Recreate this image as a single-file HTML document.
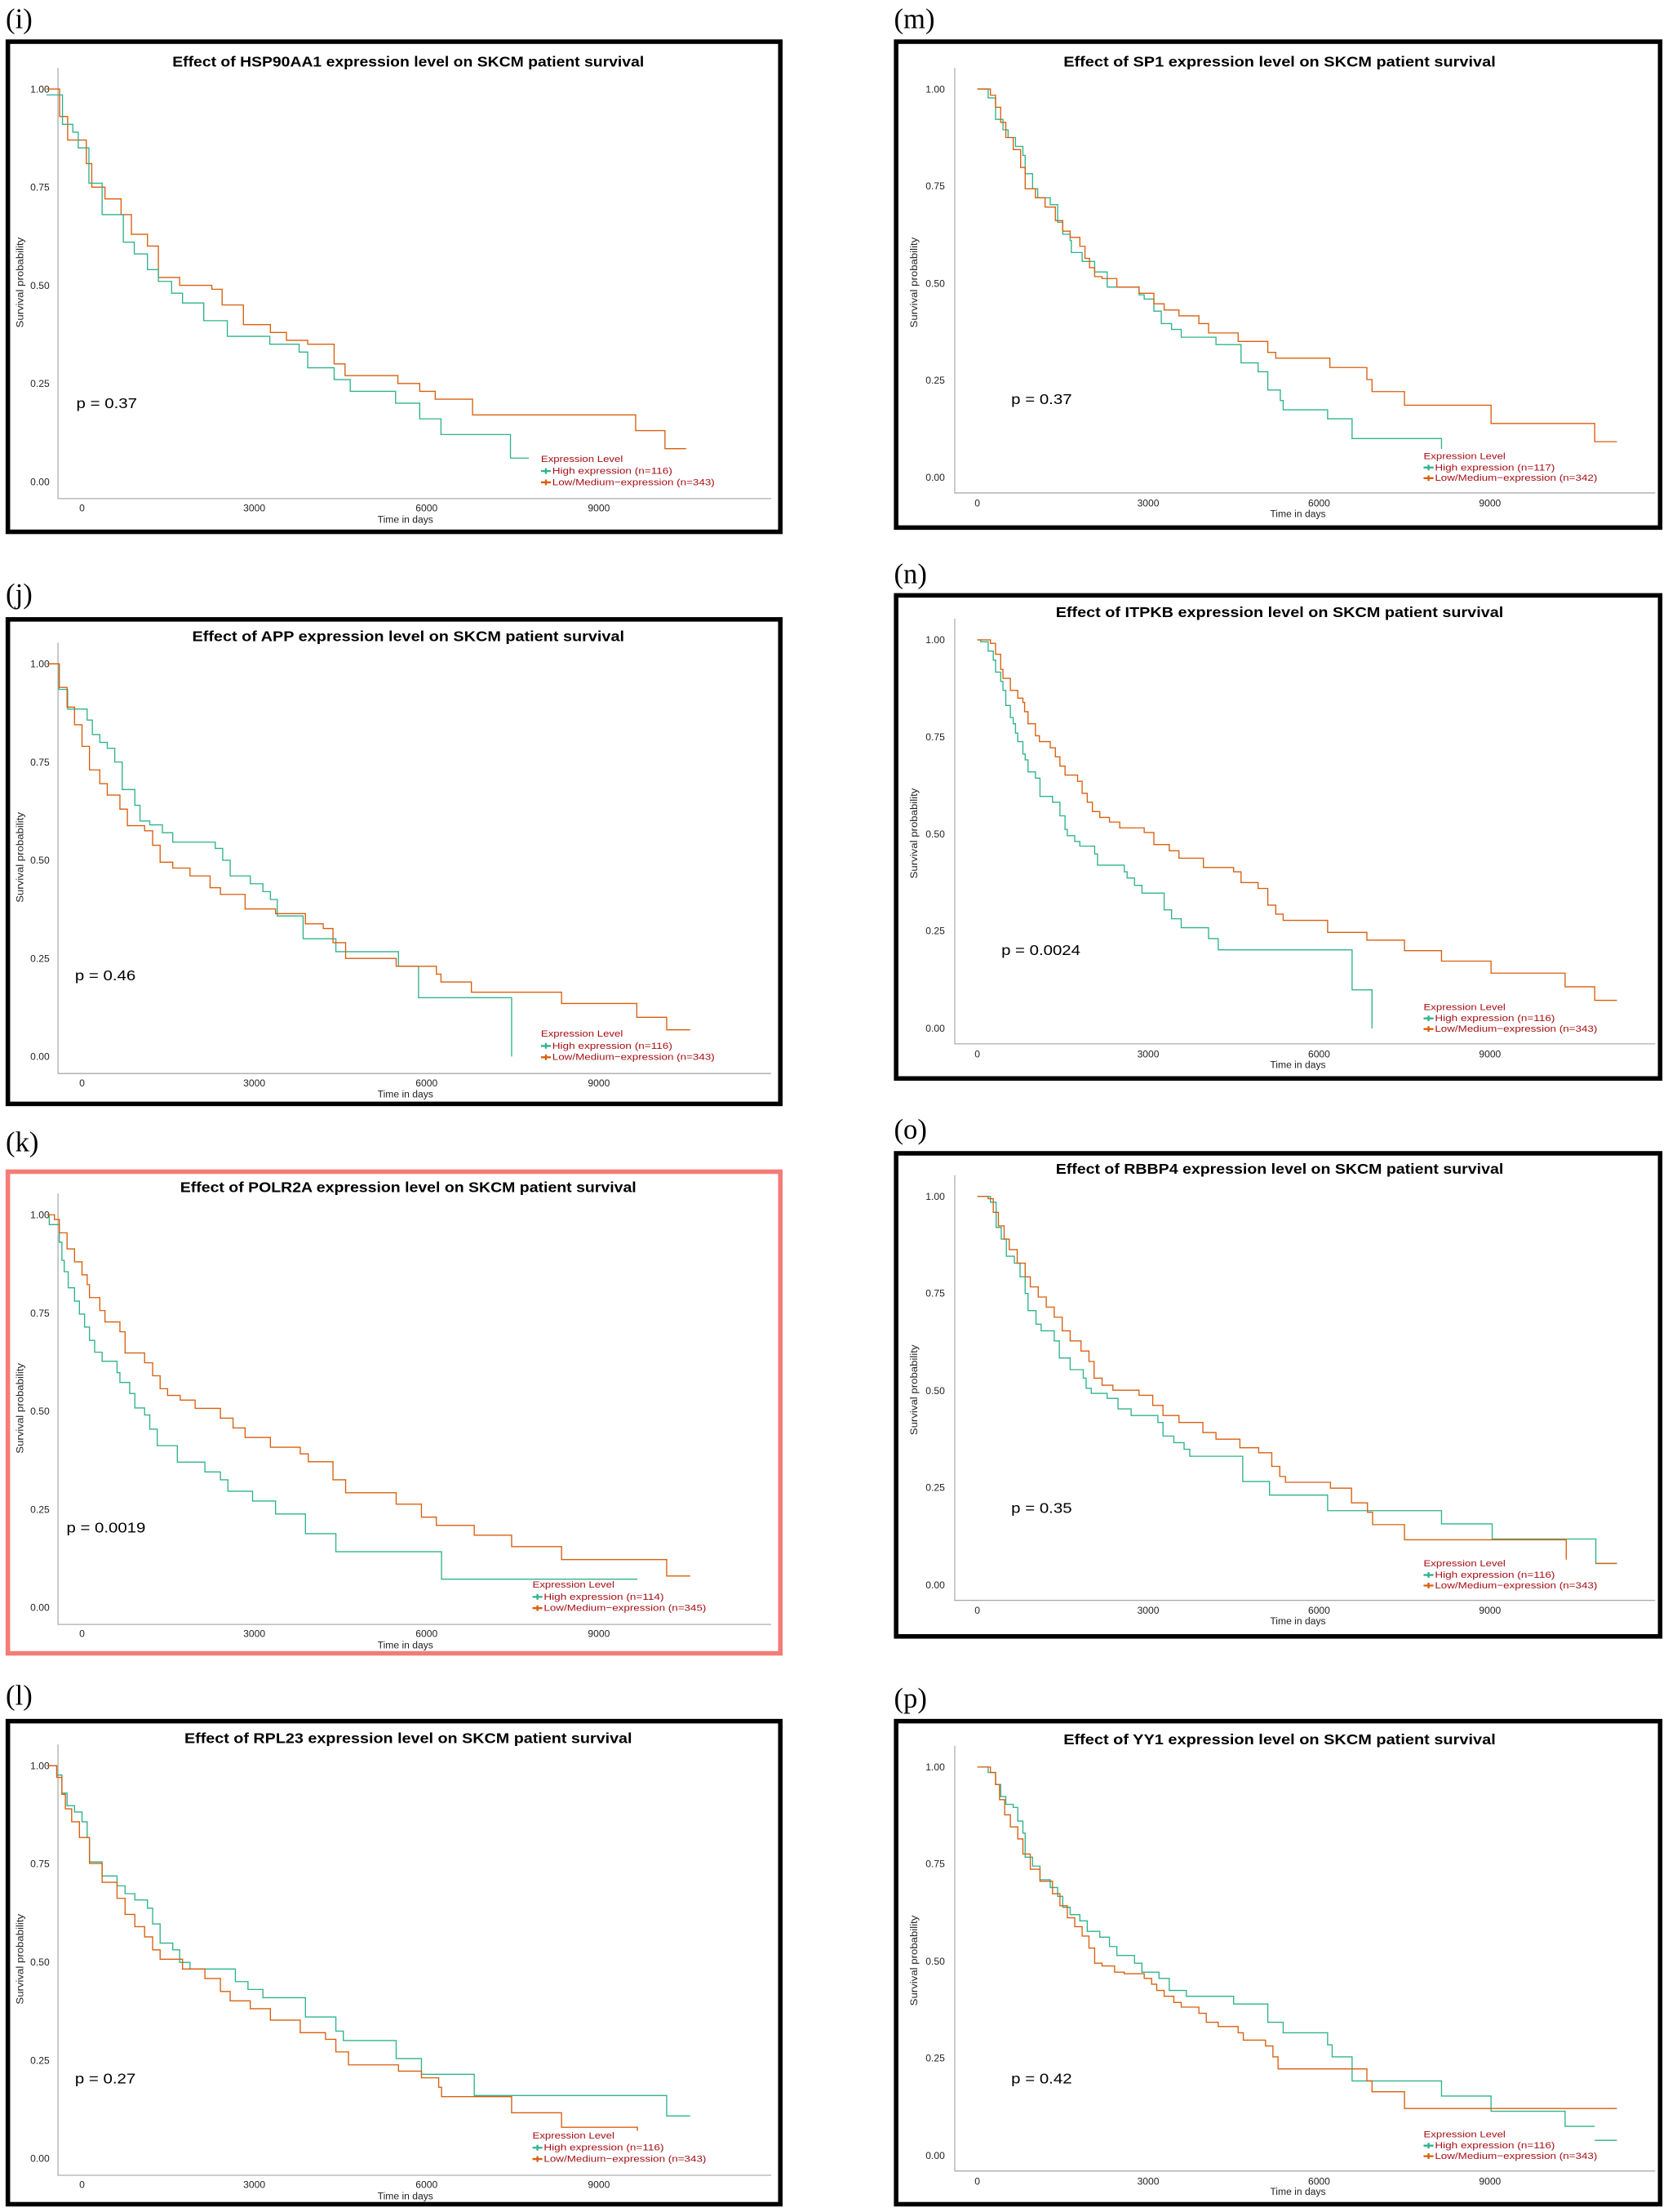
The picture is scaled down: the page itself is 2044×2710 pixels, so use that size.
<!DOCTYPE html>
<html><head><meta charset="utf-8"><style>
html,body{margin:0;padding:0;background:#fff}
svg{display:block}
text{font-family:"Liberation Sans",sans-serif}
.lab{font-family:"Liberation Serif",serif;font-size:20px}
.ttl{font-weight:bold;font-size:10px;text-anchor:middle}
.tk{font-size:7px;fill:#222}
.ax{stroke:#999;stroke-width:0.6;fill:none}
.t{stroke:#2fb38c;stroke-width:1.35;fill:none}
.o{stroke:#d95f0e;stroke-width:1.35;fill:none}
.lg{font-size:6.6px;fill:#a50f15}
.pv{font-size:10px}
</style></head><body>
<svg width="2044" height="2710" viewBox="0 0 1181 1566" xmlns="http://www.w3.org/2000/svg">
<rect width="1181" height="1566" fill="#fff"/>
<text class="lab" x="4" y="20">(i)</text>
<text class="lab" x="4" y="427">(j)</text>
<text class="lab" x="4" y="815">(k)</text>
<text class="lab" x="4" y="1207">(l)</text>
<text class="lab" x="633" y="20">(m)</text>
<text class="lab" x="633" y="413">(n)</text>
<text class="lab" x="633" y="806">(o)</text>
<text class="lab" x="633" y="1209">(p)</text>
<rect x="5.5" y="29.5" width="547" height="347" fill="none" stroke="#000" stroke-width="3.2"/>
<rect x="5.5" y="438.5" width="547" height="343" fill="none" stroke="#000" stroke-width="3.2"/>
<rect x="5.5" y="829.5" width="547" height="341" fill="none" stroke="#f47c77" stroke-width="3.2"/>
<rect x="5.5" y="1218.5" width="547" height="342" fill="none" stroke="#000" stroke-width="3.2"/>
<rect x="634.5" y="29.5" width="541" height="344" fill="none" stroke="#000" stroke-width="3.2"/>
<rect x="634.5" y="421.5" width="541" height="342" fill="none" stroke="#000" stroke-width="3.2"/>
<rect x="634.5" y="816.5" width="541" height="342" fill="none" stroke="#000" stroke-width="3.2"/>
<rect x="634.5" y="1218.5" width="541" height="342" fill="none" stroke="#000" stroke-width="3.2"/>

<g>
<text class="ttl" x="289" y="47" textLength="334" lengthAdjust="spacingAndGlyphs">Effect of HSP90AA1 expression level on SKCM patient survival</text>
<path class="ax" d="M41 48 V353 H546"/>
<text class="tk" x="35" y="65.5" text-anchor="end">1.00</text>
<text class="tk" x="35" y="135" text-anchor="end">0.75</text>
<text class="tk" x="35" y="204.5" text-anchor="end">0.50</text>
<text class="tk" x="35" y="274" text-anchor="end">0.25</text>
<text class="tk" x="35" y="343.5" text-anchor="end">0.00</text>
<text class="tk" x="58" y="362" text-anchor="middle">0</text>
<text class="tk" x="180" y="362" text-anchor="middle">3000</text>
<text class="tk" x="302" y="362" text-anchor="middle">6000</text>
<text class="tk" x="424" y="362" text-anchor="middle">9000</text>
<text class="tk" x="287" y="370" text-anchor="middle" font-size="7.5">Time in days</text>
<text class="tk" transform="translate(16.5,200) rotate(-90)" text-anchor="middle" textLength="64" lengthAdjust="spacingAndGlyphs">Survival probability</text>
<text class="pv" x="54" y="289" textLength="43" lengthAdjust="spacingAndGlyphs">p = 0.37</text>
<text class="lg" x="383" y="327" textLength="58" lengthAdjust="spacingAndGlyphs">Expression Level</text>
<text class="lg" x="391" y="335.5" textLength="85" lengthAdjust="spacingAndGlyphs">High expression (n=116)</text>
<text class="lg" x="391" y="343.5" textLength="115" lengthAdjust="spacingAndGlyphs">Low/Medium−expression (n=343)</text>
<path class="t" d="M383 333.5 H390 M386.5 331.5 V335.5"/><path class="o" d="M383 341.5 H390 M386.5 339.5 V343.5"/>
<g transform="translate(58,341) scale(0.04067,-2.78)">
<path class="o" vector-effect="non-scaling-stroke" d="M-620 100 H-390 V93 H-250 V87 H75 V81 H170 V75 H400 V72 H680 V68 H860 V63 H1140 V60 H1330 V52 H1700 V50 H2260 V49 H2440 V45 H2810 V40 H3280 V38 H3560 V36 H3930 V35 H4390 V30 H4580 V27 H5500 V25 H5880 V23 H6150 V21 H6800 V17 H9640 V13 H10150 V8.4 H10520"/>
<path class="t" vector-effect="non-scaling-stroke" d="M-620 98.5 H-340 V91 H-160 V89 H-65 V85 H120 V76 H350 V68 H720 V61 H910 V58 H1140 V54 H1330 V51 H1560 V48 H1750 V45.5 H2120 V41 H2530 V37 H3270 V35 H3780 V33 H3930 V29 H4390 V26 H4670 V23 H5460 V20 H5880 V16 H6250 V12 H7460 V6 H7780"/>
</g>
</g>

<g transform="translate(0,407)">
<text class="ttl" x="289" y="47" textLength="306" lengthAdjust="spacingAndGlyphs">Effect of APP expression level on SKCM patient survival</text>
<path class="ax" d="M41 48 V353 H546"/>
<text class="tk" x="35" y="65.5" text-anchor="end">1.00</text>
<text class="tk" x="35" y="135" text-anchor="end">0.75</text>
<text class="tk" x="35" y="204.5" text-anchor="end">0.50</text>
<text class="tk" x="35" y="274" text-anchor="end">0.25</text>
<text class="tk" x="35" y="343.5" text-anchor="end">0.00</text>
<text class="tk" x="58" y="362" text-anchor="middle">0</text>
<text class="tk" x="180" y="362" text-anchor="middle">3000</text>
<text class="tk" x="302" y="362" text-anchor="middle">6000</text>
<text class="tk" x="424" y="362" text-anchor="middle">9000</text>
<text class="tk" x="287" y="370" text-anchor="middle" font-size="7.5">Time in days</text>
<text class="tk" transform="translate(16.5,200) rotate(-90)" text-anchor="middle" textLength="64" lengthAdjust="spacingAndGlyphs">Survival probability</text>
<text class="pv" x="53" y="287" textLength="43" lengthAdjust="spacingAndGlyphs">p = 0.46</text>
<text class="lg" x="383" y="327" textLength="58" lengthAdjust="spacingAndGlyphs">Expression Level</text>
<text class="lg" x="391" y="335.5" textLength="85" lengthAdjust="spacingAndGlyphs">High expression (n=116)</text>
<text class="lg" x="391" y="343.5" textLength="115" lengthAdjust="spacingAndGlyphs">Low/Medium−expression (n=343)</text>
<path class="t" d="M383 333.5 H390 M386.5 331.5 V335.5"/><path class="o" d="M383 341.5 H390 M386.5 339.5 V343.5"/>
<g transform="translate(58,341) scale(0.04067,-2.78)">
<path class="t" vector-effect="non-scaling-stroke" d="M-610 100 H-400 V93.5 H-250 V88.5 H90 V85.7 H180 V82 H310 V80 H440 V78.5 H570 V75 H700 V68 H920 V64 H1010 V60 H1180 V59 H1400 V57 H1580 V54.6 H2320 V53 H2450 V50 H2580 V46 H2930 V44 H3150 V42 H3280 V40 H3400 V35.8 H3850 V30 H4420 V26.7 H5510 V23 H5860 V15 H7480 V0"/>
<path class="o" vector-effect="non-scaling-stroke" d="M-610 100 H-395 V94 H-260 V89 H-130 V84.5 H0 V79 H130 V73 H310 V69.5 H440 V66.6 H660 V63 H790 V58.8 H1090 V57.5 H1230 V53.8 H1360 V49.5 H1580 V48 H1880 V46 H2230 V43 H2410 V41.3 H2840 V37.6 H3370 V36.4 H3890 V33.8 H4200 V32.6 H4370 V29 H4590 V25 H5470 V23 H6170 V21 H6250 V19 H6780 V16.4 H8350 V13.5 H9660 V10 H10180 V6.8 H10590"/>
</g>
</g>

<g transform="translate(0,797)">
<text class="ttl" x="289" y="47" textLength="323" lengthAdjust="spacingAndGlyphs">Effect of POLR2A expression level on SKCM patient survival</text>
<path class="ax" d="M41 48 V353 H546"/>
<text class="tk" x="35" y="65.5" text-anchor="end">1.00</text>
<text class="tk" x="35" y="135" text-anchor="end">0.75</text>
<text class="tk" x="35" y="204.5" text-anchor="end">0.50</text>
<text class="tk" x="35" y="274" text-anchor="end">0.25</text>
<text class="tk" x="35" y="343.5" text-anchor="end">0.00</text>
<text class="tk" x="58" y="362" text-anchor="middle">0</text>
<text class="tk" x="180" y="362" text-anchor="middle">3000</text>
<text class="tk" x="302" y="362" text-anchor="middle">6000</text>
<text class="tk" x="424" y="362" text-anchor="middle">9000</text>
<text class="tk" x="287" y="370" text-anchor="middle" font-size="7.5">Time in days</text>
<text class="tk" transform="translate(16.5,200) rotate(-90)" text-anchor="middle" textLength="64" lengthAdjust="spacingAndGlyphs">Survival probability</text>
<text class="pv" x="47" y="288" textLength="56" lengthAdjust="spacingAndGlyphs">p = 0.0019</text>
<text class="lg" x="377" y="327" textLength="58" lengthAdjust="spacingAndGlyphs">Expression Level</text>
<text class="lg" x="385" y="335.5" textLength="85" lengthAdjust="spacingAndGlyphs">High expression (n=114)</text>
<text class="lg" x="385" y="343.5" textLength="115" lengthAdjust="spacingAndGlyphs">Low/Medium−expression (n=345)</text>
<path class="t" d="M377 333.5 H384 M380.5 331.5 V335.5"/><path class="o" d="M377 341.5 H384 M380.5 339.5 V343.5"/>
<g transform="translate(58,341) scale(0.04067,-2.78)">
<path class="t" vector-effect="non-scaling-stroke" d="M-610 100 H-570 V97.5 H-395 V93 H-350 V88.4 H-310 V85.5 H-240 V81.4 H-130 V78 H-45 V74.7 H45 V71.4 H130 V68 H220 V65 H350 V62.7 H610 V59.8 H660 V57.3 H830 V54.5 H920 V50.8 H1090 V49 H1180 V45.4 H1310 V41.2 H1660 V37 H2140 V34.5 H2410 V32.5 H2540 V29.6 H2970 V27.1 H3370 V23.8 H3890 V18.8 H4420 V14.2 H6260 V7.2 H9670"/>
<path class="o" vector-effect="non-scaling-stroke" d="M-610 100 H-480 V98.8 H-395 V95.4 H-260 V91.3 H-130 V88 H0 V84.7 H90 V82.2 H130 V78.9 H310 V75.6 H400 V72.7 H660 V70.2 H750 V64.8 H1090 V62.3 H1230 V59 H1360 V55.7 H1490 V54 H1710 V52.8 H1970 V50.7 H2410 V48.2 H2630 V45.7 H2840 V43.3 H3280 V40.8 H3800 V39.1 H3940 V37.1 H4370 V32.5 H4590 V29.2 H5470 V26.3 H5910 V23 H6170 V20.9 H6830 V18.4 H7480 V15.5 H8350 V12.2 H10180 V8 H10590"/>
</g>
</g>

<g transform="translate(0,1187)">
<text class="ttl" x="289" y="47" textLength="317" lengthAdjust="spacingAndGlyphs">Effect of RPL23 expression level on SKCM patient survival</text>
<path class="ax" d="M41 48 V353 H546"/>
<text class="tk" x="35" y="65.5" text-anchor="end">1.00</text>
<text class="tk" x="35" y="135" text-anchor="end">0.75</text>
<text class="tk" x="35" y="204.5" text-anchor="end">0.50</text>
<text class="tk" x="35" y="274" text-anchor="end">0.25</text>
<text class="tk" x="35" y="343.5" text-anchor="end">0.00</text>
<text class="tk" x="58" y="362" text-anchor="middle">0</text>
<text class="tk" x="180" y="362" text-anchor="middle">3000</text>
<text class="tk" x="302" y="362" text-anchor="middle">6000</text>
<text class="tk" x="424" y="362" text-anchor="middle">9000</text>
<text class="tk" x="287" y="370" text-anchor="middle" font-size="7.5">Time in days</text>
<text class="tk" transform="translate(16.5,200) rotate(-90)" text-anchor="middle" textLength="64" lengthAdjust="spacingAndGlyphs">Survival probability</text>
<text class="pv" x="53" y="288" textLength="43" lengthAdjust="spacingAndGlyphs">p = 0.27</text>
<text class="lg" x="377" y="327" textLength="58" lengthAdjust="spacingAndGlyphs">Expression Level</text>
<text class="lg" x="385" y="335.5" textLength="85" lengthAdjust="spacingAndGlyphs">High expression (n=116)</text>
<text class="lg" x="385" y="343.5" textLength="115" lengthAdjust="spacingAndGlyphs">Low/Medium−expression (n=343)</text>
<path class="t" d="M377 333.5 H384 M380.5 331.5 V335.5"/><path class="o" d="M377 341.5 H384 M380.5 339.5 V343.5"/>
<g transform="translate(58,341) scale(0.04067,-2.78)">
<path class="t" vector-effect="non-scaling-stroke" d="M-610 100 H-440 V97.6 H-350 V93 H-260 V89.8 H-130 V88.2 H0 V85.7 H90 V81.7 H130 V75.5 H350 V71.9 H610 V69.4 H750 V67.4 H920 V65.8 H1140 V63.7 H1230 V59.7 H1360 V54.8 H1580 V53.1 H1700 V49.9 H1880 V48.2 H2670 V45 H2890 V43 H3150 V40.9 H3890 V36 H4420 V32.4 H4550 V30 H5470 V25.4 H5910 V21.4 H6830 V16 H10180 V10.8 H10590"/>
<path class="o" vector-effect="non-scaling-stroke" d="M-610 100 H-440 V97 H-350 V92.7 H-290 V89 H-180 V85.7 H-45 V81.7 H130 V75.1 H350 V70.3 H610 V66.2 H750 V62.1 H920 V59 H1090 V56.4 H1230 V53.1 H1360 V50.7 H1750 V48.2 H2140 V45.8 H2410 V42.5 H2580 V40.1 H2930 V38.1 H3280 V35.2 H3800 V32 H4240 V30.3 H4420 V27.1 H4640 V23.8 H5510 V22.2 H5910 V20.5 H6210 V18.1 H6260 V15.7 H7480 V11.6 H8350 V7.9 H9670 V7"/>
</g>
</g>

<g>
<text class="ttl" x="906" y="47" textLength="306" lengthAdjust="spacingAndGlyphs">Effect of SP1 expression level on SKCM patient survival</text>
<path class="ax" d="M676 48 V349 H1172"/>
<text class="tk" x="669" y="65.5" text-anchor="end">1.00</text>
<text class="tk" x="669" y="134" text-anchor="end">0.75</text>
<text class="tk" x="669" y="203" text-anchor="end">0.50</text>
<text class="tk" x="669" y="271.5" text-anchor="end">0.25</text>
<text class="tk" x="669" y="340.5" text-anchor="end">0.00</text>
<text class="tk" x="692" y="358.5" text-anchor="middle">0</text>
<text class="tk" x="813" y="358.5" text-anchor="middle">3000</text>
<text class="tk" x="934" y="358.5" text-anchor="middle">6000</text>
<text class="tk" x="1055" y="358.5" text-anchor="middle">9000</text>
<text class="tk" x="919" y="366" text-anchor="middle" font-size="7.5">Time in days</text>
<text class="tk" transform="translate(649.5,200) rotate(-90)" text-anchor="middle" textLength="64" lengthAdjust="spacingAndGlyphs">Survival probability</text>
<text class="pv" x="716" y="286" textLength="43" lengthAdjust="spacingAndGlyphs">p = 0.37</text>
<text class="lg" x="1008" y="325" textLength="58" lengthAdjust="spacingAndGlyphs">Expression Level</text>
<text class="lg" x="1016" y="333" textLength="85" lengthAdjust="spacingAndGlyphs">High expression (n=117)</text>
<text class="lg" x="1016" y="340.5" textLength="115" lengthAdjust="spacingAndGlyphs">Low/Medium−expression (n=342)</text>
<path class="t" d="M1008 331 H1015 M1011.5 329 V333"/><path class="o" d="M1008 338.5 H1015 M1011.5 336.5 V340.5"/>
<g transform="translate(692,338) scale(0.04033,-2.75)">
<path class="t" vector-effect="non-scaling-stroke" d="M0 100 H190 V97.7 H320 V92.2 H450 V89.5 H540 V87.5 H670 V85.2 H800 V82.9 H840 V78.2 H970 V74.3 H1060 V72 H1280 V70.2 H1410 V65.7 H1500 V62.6 H1630 V61 H1650 V57.9 H1840 V55.6 H2060 V52.9 H2280 V49 H2840 V47 H2930 V45.9 H3100 V42.8 H3230 V39.6 H3410 V38.1 H3580 V36.1 H4190 V34.2 H4630 V29.5 H4930 V27.2 H5100 V22.5 H5320 V19.8 H5370 V17.4 H6150 V15.1 H6580 V10 H8150 V7.3"/>
<path class="o" vector-effect="non-scaling-stroke" d="M0 100 H230 V98.4 H320 V95.3 H410 V91.4 H500 V87.5 H630 V84.4 H760 V79.8 H840 V74.3 H1020 V72 H1190 V69.6 H1370 V66.1 H1500 V63.4 H1630 V61.8 H1800 V59.5 H1890 V56.4 H1970 V54 H2060 V51.7 H2190 V51.2 H2450 V49 H2840 V47.4 H3100 V44.7 H3280 V43.1 H3540 V41.6 H3890 V39.6 H4060 V37.2 H4580 V35 H5100 V32.2 H5240 V30.7 H6190 V28.3 H6840 V25.2 H6930 V22.1 H7500 V18.6 H9020 V13.9 H10840 V9.2 H11230"/>
</g>
</g>

<g transform="translate(0,390)">
<text class="ttl" x="906" y="47" textLength="317" lengthAdjust="spacingAndGlyphs">Effect of ITPKB expression level on SKCM patient survival</text>
<path class="ax" d="M676 48 V349 H1172"/>
<text class="tk" x="669" y="65.5" text-anchor="end">1.00</text>
<text class="tk" x="669" y="134" text-anchor="end">0.75</text>
<text class="tk" x="669" y="203" text-anchor="end">0.50</text>
<text class="tk" x="669" y="271.5" text-anchor="end">0.25</text>
<text class="tk" x="669" y="340.5" text-anchor="end">0.00</text>
<text class="tk" x="692" y="358.5" text-anchor="middle">0</text>
<text class="tk" x="813" y="358.5" text-anchor="middle">3000</text>
<text class="tk" x="934" y="358.5" text-anchor="middle">6000</text>
<text class="tk" x="1055" y="358.5" text-anchor="middle">9000</text>
<text class="tk" x="919" y="366" text-anchor="middle" font-size="7.5">Time in days</text>
<text class="tk" transform="translate(649.5,200) rotate(-90)" text-anchor="middle" textLength="64" lengthAdjust="spacingAndGlyphs">Survival probability</text>
<text class="pv" x="709" y="286" textLength="56" lengthAdjust="spacingAndGlyphs">p = 0.0024</text>
<text class="lg" x="1008" y="325" textLength="58" lengthAdjust="spacingAndGlyphs">Expression Level</text>
<text class="lg" x="1016" y="333" textLength="85" lengthAdjust="spacingAndGlyphs">High expression (n=116)</text>
<text class="lg" x="1016" y="340.5" textLength="115" lengthAdjust="spacingAndGlyphs">Low/Medium−expression (n=343)</text>
<path class="t" d="M1008 331 H1015 M1011.5 329 V333"/><path class="o" d="M1008 338.5 H1015 M1011.5 336.5 V340.5"/>
<g transform="translate(692,338) scale(0.04033,-2.75)">
<path class="t" vector-effect="non-scaling-stroke" d="M0 100 H60 V99.5 H190 V97.1 H280 V94.8 H320 V91.7 H410 V89.3 H450 V87 H500 V83.1 H580 V80 H630 V78.4 H670 V76 H710 V73.8 H800 V70.6 H840 V69.1 H890 V66 H1020 V64.4 H1100 V59.7 H1320 V58.2 H1450 V54.7 H1540 V51.2 H1580 V49.6 H1710 V48.1 H1800 V46.9 H2060 V44.9 H2110 V42 H2580 V40.3 H2630 V38.7 H2760 V36.8 H2890 V34.8 H3280 V30.5 H3410 V28.2 H3580 V25.9 H4060 V23.1 H4230 V20.2 H6580 V9.9 H6930 V0"/>
<path class="o" vector-effect="non-scaling-stroke" d="M0 100 H230 V99.1 H320 V96.3 H410 V92.4 H450 V90.1 H580 V87 H710 V85 H800 V83.9 H830 V81.5 H890 V78.4 H1020 V75.3 H1090 V73.8 H1280 V72.2 H1370 V69.9 H1450 V67.5 H1540 V65.2 H1760 V63.6 H1840 V60.5 H1930 V58.2 H2020 V55.8 H2150 V54.3 H2320 V53.1 H2500 V51.6 H2930 V50.4 H3100 V47.3 H3370 V45.7 H3540 V43.8 H3970 V41.4 H4500 V40.3 H4630 V37.5 H4930 V36 H5100 V31.7 H5240 V29.4 H5370 V27.8 H6150 V24.7 H6840 V22.7 H7500 V20 H8150 V17.3 H9020 V14.2 H10320 V10.7 H10840 V7.2 H11230"/>
</g>
</g>

<g transform="translate(0,784)">
<text class="ttl" x="906" y="47" textLength="317" lengthAdjust="spacingAndGlyphs">Effect of RBBP4 expression level on SKCM patient survival</text>
<path class="ax" d="M676 48 V349 H1172"/>
<text class="tk" x="669" y="65.5" text-anchor="end">1.00</text>
<text class="tk" x="669" y="134" text-anchor="end">0.75</text>
<text class="tk" x="669" y="203" text-anchor="end">0.50</text>
<text class="tk" x="669" y="271.5" text-anchor="end">0.25</text>
<text class="tk" x="669" y="340.5" text-anchor="end">0.00</text>
<text class="tk" x="692" y="358.5" text-anchor="middle">0</text>
<text class="tk" x="813" y="358.5" text-anchor="middle">3000</text>
<text class="tk" x="934" y="358.5" text-anchor="middle">6000</text>
<text class="tk" x="1055" y="358.5" text-anchor="middle">9000</text>
<text class="tk" x="919" y="366" text-anchor="middle" font-size="7.5">Time in days</text>
<text class="tk" transform="translate(649.5,200) rotate(-90)" text-anchor="middle" textLength="64" lengthAdjust="spacingAndGlyphs">Survival probability</text>
<text class="pv" x="716" y="287" textLength="43" lengthAdjust="spacingAndGlyphs">p = 0.35</text>
<text class="lg" x="1008" y="325" textLength="58" lengthAdjust="spacingAndGlyphs">Expression Level</text>
<text class="lg" x="1016" y="333" textLength="85" lengthAdjust="spacingAndGlyphs">High expression (n=116)</text>
<text class="lg" x="1016" y="340.5" textLength="115" lengthAdjust="spacingAndGlyphs">Low/Medium−expression (n=343)</text>
<path class="t" d="M1008 331 H1015 M1011.5 329 V333"/><path class="o" d="M1008 338.5 H1015 M1011.5 336.5 V340.5"/>
<g transform="translate(692,338) scale(0.04033,-2.75)">
<path class="t" vector-effect="non-scaling-stroke" d="M0 100 H230 V98.5 H330 V92 H420 V89 H510 V84.6 H650 V82.8 H750 V79.3 H840 V75 H890 V70.6 H1030 V67.1 H1120 V65.4 H1350 V62.8 H1440 V58.4 H1630 V55.4 H1860 V53.2 H1910 V50.6 H2000 V49.3 H2280 V48 H2470 V45.3 H2700 V43.6 H3170 V41.8 H3260 V38.3 H3450 V36.6 H3630 V34.9 H3730 V33.1 H4660 V26.6 H5130 V23.1 H6150 V19.1 H8150 V15.7 H9040 V11.8 H10860 V5.5 H11230"/>
<path class="o" vector-effect="non-scaling-stroke" d="M0 100 H190 V99.4 H280 V95.9 H370 V92.4 H470 V89 H560 V86.3 H700 V82.8 H840 V79.3 H930 V76.7 H1070 V74.1 H1210 V71.5 H1350 V68.9 H1490 V65.4 H1630 V62.8 H1820 V60.2 H1960 V57.5 H2050 V53.2 H2190 V51.4 H2380 V50.1 H2840 V48.8 H3080 V46.2 H3260 V43.6 H3540 V41.8 H3960 V39.2 H4190 V37.5 H4610 V35.3 H4940 V34 H5170 V30.5 H5310 V27.9 H5410 V26.4 H6200 V24.9 H6570 V21.1 H6850 V18.7 H6940 V15.5 H7500 V11.6 H10340 V6.5 M10860 5.5 H11230"/>
</g>
</g>

<g transform="translate(0,1188)">
<text class="ttl" x="906" y="47" textLength="306" lengthAdjust="spacingAndGlyphs">Effect of YY1 expression level on SKCM patient survival</text>
<path class="ax" d="M676 48 V349 H1172"/>
<text class="tk" x="669" y="65.5" text-anchor="end">1.00</text>
<text class="tk" x="669" y="134" text-anchor="end">0.75</text>
<text class="tk" x="669" y="203" text-anchor="end">0.50</text>
<text class="tk" x="669" y="271.5" text-anchor="end">0.25</text>
<text class="tk" x="669" y="340.5" text-anchor="end">0.00</text>
<text class="tk" x="692" y="358.5" text-anchor="middle">0</text>
<text class="tk" x="813" y="358.5" text-anchor="middle">3000</text>
<text class="tk" x="934" y="358.5" text-anchor="middle">6000</text>
<text class="tk" x="1055" y="358.5" text-anchor="middle">9000</text>
<text class="tk" x="919" y="366" text-anchor="middle" font-size="7.5">Time in days</text>
<text class="tk" transform="translate(649.5,200) rotate(-90)" text-anchor="middle" textLength="64" lengthAdjust="spacingAndGlyphs">Survival probability</text>
<text class="pv" x="716" y="287" textLength="43" lengthAdjust="spacingAndGlyphs">p = 0.42</text>
<text class="lg" x="1008" y="325" textLength="58" lengthAdjust="spacingAndGlyphs">Expression Level</text>
<text class="lg" x="1016" y="333" textLength="85" lengthAdjust="spacingAndGlyphs">High expression (n=116)</text>
<text class="lg" x="1016" y="340.5" textLength="115" lengthAdjust="spacingAndGlyphs">Low/Medium−expression (n=343)</text>
<path class="t" d="M1008 331 H1015 M1011.5 329 V333"/><path class="o" d="M1008 338.5 H1015 M1011.5 336.5 V340.5"/>
<g transform="translate(692,338) scale(0.04033,-2.75)">
<path class="t" vector-effect="non-scaling-stroke" d="M0 100 H190 V98.6 H320 V95.5 H410 V92.4 H500 V90.4 H630 V89.6 H710 V86.1 H800 V83 H840 V76.8 H970 V74.5 H1100 V71 H1280 V69 H1410 V66.7 H1500 V63.9 H1630 V62 H1800 V60.4 H1930 V57.7 H2150 V56.2 H2320 V53.8 H2450 V51.5 H2760 V49.5 H2890 V47.2 H3190 V45.6 H3370 V42.5 H3670 V41 H4500 V39 H5100 V34.3 H5370 V31.6 H6150 V28.5 H6230 V25.4 H6580 V19.2 H8150 V15.3 H9020 V11.4 H10320 V7.5 H10840 M10840 3.9 H11230"/>
<path class="o" vector-effect="non-scaling-stroke" d="M0 100 H230 V98.6 H320 V95.5 H390 V91.6 H480 V87.7 H580 V84.6 H710 V81.5 H800 V77.6 H930 V73.7 H1100 V70.6 H1320 V67.4 H1450 V64.3 H1580 V61.2 H1710 V58.9 H1840 V56.5 H1960 V53.4 H2060 V49.5 H2190 V48.8 H2410 V47.2 H2580 V46.8 H2930 V45.6 H3060 V44.1 H3150 V42.5 H3280 V41 H3450 V39.4 H3580 V38.2 H3890 V36.6 H4020 V34.3 H4230 V33.2 H4580 V31.6 H4670 V29.7 H5060 V28.2 H5190 V25.4 H5280 V22.3 H6840 V19.2 H6930 V16.4 H7500 V12.1 H11230"/>
</g>
</g>
</svg>
</body></html>
